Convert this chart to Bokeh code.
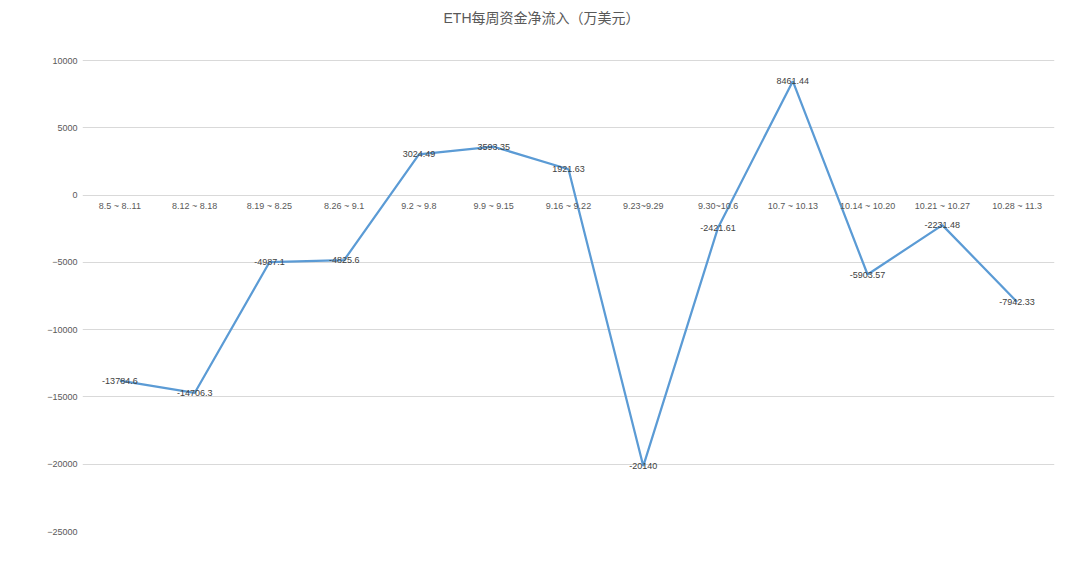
from bokeh.plotting import figure
from bokeh.models import FactorRange, ColumnDataSource, FixedTicker, CategoricalAxis, Range1d, Label
from bokeh.core.properties import value
from bokeh.embed import file_html
from bokeh.resources import INLINE

weeks = ["8.5 ~ 8..11", "8.12 ~ 8.18", "8.19 ~ 8.25", "8.26 ~ 9.1", "9.2 ~ 9.8",
         "9.9 ~ 9.15", "9.16 ~ 9.22", "9.23~9.29", "9.30~10.6", "10.7 ~ 10.13",
         "10.14 ~ 10.20", "10.21 ~ 10.27", "10.28 ~ 11.3"]
net_inflow = [-13784.6, -14706.3, -4987.1, -4825.6, 3024.49, 3593.35, 1921.63,
              -20140, -2421.61, 8461.44, -5903.57, -2231.48, -7942.33]
y_ticks = [-25000, -20000, -15000, -10000, -5000, 0, 5000, 10000]
title_text = "ETH每周资金净流入（万美元）"

FONT = "Liberation Sans, 'Noto Sans CJK SC'"

# layout: grid area 471 px tall for -25000..10000, plus 60 px headroom for the title
grid_px = 471
head_px = 60
y_lo, y_hi = y_ticks[0], y_ticks[-1]
y_top = y_hi + head_px * (y_hi - y_lo) / grid_px

src = ColumnDataSource(dict(
    x=weeks, y=net_inflow, lbl=[f"{v:g}" for v in net_inflow]))

p = figure(width=1077, height=553, output_backend="svg", toolbar_location=None,
           x_range=FactorRange(factors=weeks, range_padding=0),
           y_range=Range1d(y_lo, y_top),
           x_axis_location=None,
           min_border_left=82, min_border_right=23, min_border_top=0, min_border_bottom=22)

title = Label(text=title_text, x=361, y=grid_px + head_px - 17, x_units="screen", y_units="screen",
              text_align="left", text_baseline="middle",
              text_font=FONT, text_font_size="14px", text_color="#595959")
p.add_layout(title)

p.outline_line_color = None
p.xgrid.grid_line_color = None
p.ygrid.grid_line_color = "#D9D9D9"
p.ygrid.ticker = FixedTicker(ticks=y_ticks)

yax = p.yaxis[0]
yax.ticker = FixedTicker(ticks=y_ticks)
yax.axis_line_color = None
yax.major_tick_line_color = None
yax.minor_tick_line_color = None
yax.major_tick_out = 0
yax.major_tick_in = 0
yax.major_label_standoff = 5
yax.major_label_text_font = FONT
yax.major_label_text_font_size = "9px"
yax.major_label_text_color = "#595959"

xax = CategoricalAxis(fixed_location=0)
xax.axis_line_color = None
xax.major_tick_line_color = None
xax.minor_tick_line_color = None
xax.major_tick_out = 0
xax.major_tick_in = 0
xax.major_label_standoff = 6
xax.major_label_text_font = FONT
xax.major_label_text_font_size = "9px"
xax.major_label_text_color = "#595959"
p.add_layout(xax, "below")

p.line("x", "y", source=src, line_color="#5B9BD5", line_width=2.25)
p.text("x", "y", text="lbl", source=src, text_align="center", text_baseline="middle",
       text_font=value("Liberation Sans"), text_font_size="9px", text_color="#404040")

open("out.html", "w").write(file_html(p, INLINE))
